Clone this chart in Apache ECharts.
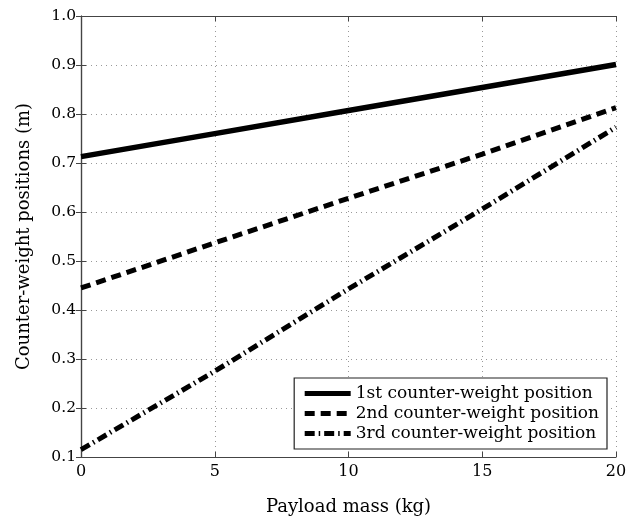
<!DOCTYPE html>
<html>
<head>
<meta charset="utf-8">
<script src="https://cdn.jsdelivr.net/npm/echarts@6/dist/echarts.min.js"></script>
<style>
  html, body { margin: 0; padding: 0; background: #fff; }
  #main { width: 639px; height: 521px; }
</style>
</head>
<body>
<div id="main"></div>
<script>
    // data
    var payload = [0, 5, 10, 15, 20];
    var firstPos = [0.713, 0.760, 0.807, 0.854, 0.901];
    var secondPos = [0.445, 0.537, 0.628, 0.718, 0.813];
    var thirdPos = [0.115, 0.275, 0.443, 0.606, 0.773];
    var seriesNames = ['1st counter-weight position', '2nd counter-weight position', '3rd counter-weight position'];

    function pairs(ys) {
        return payload.map(function (x, i) { return [x, ys[i]]; });
    }

    var font = 'DejaVu Serif';
    var frame = { show: true, lineStyle: { color: '#444', width: 1.2 } };
    var tickIn = { show: true, inside: true, length: 5, lineStyle: { color: '#444', width: 1 } };
    var dotted = { show: true, lineStyle: { color: '#999', type: [1, 4], width: 1 } };

    var chart = echarts.init(document.getElementById('main'));
    var option = {
        animation: false,
        backgroundColor: '#fff',
        color: ['#000', '#000', '#000'],
        grid: { left: 81, right: 23, top: 16, bottom: 64 },
        legend: {
            orient: 'vertical',
            right: 32,
            bottom: 72,
            data: seriesNames,
            itemWidth: 46,
            itemHeight: 10,
            itemGap: 3,
            padding: [7, 8, 7, 8],
            borderColor: '#222',
            borderWidth: 1.2,
            backgroundColor: '#fff',
            itemStyle: { opacity: 0 },
            lineStyle: { width: 5, color: '#000' },
            textStyle: { fontFamily: font, fontSize: 17, color: '#000' }
        },
        xAxis: [{
            type: 'value', min: 0, max: 20, interval: 5,
            name: 'Payload mass (kg)', nameLocation: 'middle', nameGap: 41,
            nameTextStyle: { fontFamily: font, fontSize: 18, color: '#000' },
            axisLine: frame, axisTick: tickIn, splitLine: dotted,
            axisLabel: { fontFamily: font, fontSize: 16, color: '#000', margin: 7 }
        }, {
            type: 'value', position: 'top', min: 0, max: 20, interval: 5,
            axisLine: frame, axisTick: tickIn, splitLine: { show: false },
            axisLabel: { show: false }
        }],
        yAxis: [{
            type: 'value', min: 0.1, max: 1.0, interval: 0.1,
            name: 'Counter-weight positions (m)', nameLocation: 'middle', nameGap: 48,
            nameTextStyle: { fontFamily: font, fontSize: 18, color: '#000' },
            axisLine: frame, axisTick: tickIn, splitLine: dotted,
            axisLabel: {
                fontFamily: font, fontSize: 15.5, color: '#000', margin: 5,
                formatter: function (v) { return v.toFixed(1); }
            }
        }, {
            type: 'value', position: 'right', min: 0.1, max: 1.0, interval: 0.1,
            axisLine: frame, axisTick: tickIn, splitLine: { show: false },
            axisLabel: { show: false }
        }],
        series: [
            {
                name: seriesNames[0], type: 'line', symbol: 'none',
                data: pairs(firstPos),
                lineStyle: { color: '#000', width: 5.5, cap: 'butt' }
            },
            {
                name: seriesNames[1], type: 'line', symbol: 'none',
                data: pairs(secondPos),
                lineStyle: { color: '#000', width: 5, type: [10, 6], cap: 'butt' }
            },
            {
                name: seriesNames[2], type: 'line', symbol: 'none',
                data: pairs(thirdPos),
                lineStyle: { color: '#000', width: 5, type: [10, 4, 1.5, 4], cap: 'butt' }
            }
        ]
    };
    chart.setOption(option);
</script>
</body>
</html>
